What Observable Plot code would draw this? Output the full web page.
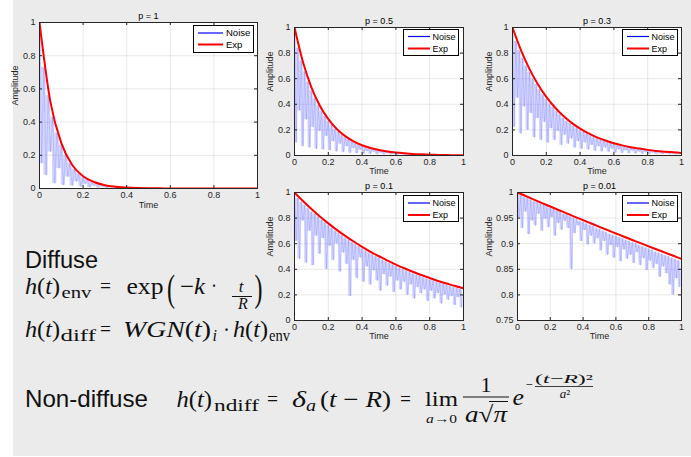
<!DOCTYPE html>
<html><head><meta charset="utf-8">
<script src="https://cdn.jsdelivr.net/npm/d3@7"></script>
<script src="https://cdn.jsdelivr.net/npm/@observablehq/plot@0.6"></script>
<style>
body{margin:0;background:#fff;width:691px;height:457px;overflow:hidden;position:relative;font-family:"Liberation Sans",Arial,sans-serif}
#bg{position:absolute;left:13px;top:0;width:678px;height:456px;background:#ebebeb}
.panel{position:absolute}
.legend{position:absolute}
</style></head><body>
<div id="bg"></div>
<script>
// ---- data ----
const titles = ["p = 1", "p = 0.5", "p = 0.3", "p = 0.1", "p = 0.01"];
const envTime = [0,0.05,0.1,0.15,0.2,0.25,0.3,0.35,0.4,0.45,0.5,0.55,0.6,0.65,0.7,0.75,0.8,0.85,0.9,0.95,1];
const envP1 = [1,0.522,0.273,0.142,0.074,0.039,0.020,0.011,0.0055,0.0029,0.0015,0.0008,0.0004,0.0002,0.0001,0.00006,0.00003,0.00002,0.00001,0.000005,0.000002];
const envP2 = [1,0.730,0.533,0.389,0.284,0.207,0.151,0.110,0.080,0.059,0.043,0.031,0.023,0.017,0.012,0.0089,0.0065,0.0047,0.0034,0.0025,0.0018];
const envP3 = [1,0.823,0.677,0.557,0.458,0.377,0.310,0.255,0.210,0.173,0.142,0.117,0.096,0.079,0.065,0.054,0.044,0.036,0.030,0.025,0.020];
const envP4 = [1,0.933,0.871,0.813,0.759,0.708,0.661,0.617,0.576,0.537,0.502,0.468,0.437,0.408,0.381,0.355,0.332,0.309,0.289,0.269,0.252];
const envP5 = [1,0.9931,0.9862,0.9794,0.9726,0.9659,0.9592,0.9525,0.9459,0.9394,0.9329,0.9264,0.9200,0.9136,0.9073,0.9010,0.8948,0.8886,0.8825,0.8764,0.8703];

// noise samples, one every 0.01 of Time
const noiseStep = 0.01;
const noiseP1 = [1.0,0.15,0.73,0.08,0.56,0.22,0.43,0.03,0.335,0.12,0.26,0.02,0.198,0.07,0.153,0.015,0.118,0.04,0.09,0.01,0.07,0.025,0.054,0.006,0.041,0.015,0.032,0.004,0.024,0.009,0.019,0.002,0.015,0.005,0.011,0.001,0.0088,0.003,0.0068,0.001,0.0052,0.002,0.004,0.0007,0.003,0.001,0.0023,0.0005,0.0018,0.0007,0.0014];
const noiseP2 = [1.0,0.10,0.84,0.35,0.74,0.07,0.655,0.28,0.575,0.06,
 0.505,0.22,0.445,0.05,0.39,0.19,0.345,0.045,0.305,0.15,
 0.27,0.04,0.237,0.11,0.208,0.03,0.183,0.09,0.162,0.025,
 0.143,0.07,0.126,0.02,0.111,0.055,0.098,0.015,0.086,0.042,
 0.076,0.012,0.067,0.032,0.059,0.01,0.052,0.025,0.046,0.008,
 0.04,0.02,0.035,0.006,0.031,0.015,0.027,0.005,0.024,0.011,
 0.021,0.004,0.019,0.009,0.016,0.003,0.014,0.007,0.013,0.002,
 0.011,0.005,0.01,0.002,0.009,0.004,0.008,0.002,0.007,0.003,
 0.0065,0.001,0.0058,0.003,0.005,0.001,0.0045,0.002,0.004,0.001,
 0.0035,0.0015,0.003,0.0008,0.0027,0.0012,0.0024,0.0006,0.0021,0.001,0.0018];
const noiseP3 = [1.0,0.22,0.89,0.45,0.82,0.17,0.76,0.38,0.70,0.20,
 0.65,0.33,0.60,0.14,0.555,0.29,0.515,0.12,0.475,0.26,
 0.44,0.10,0.405,0.21,0.375,0.12,0.345,0.19,0.32,0.08,
 0.295,0.16,0.27,0.09,0.25,0.13,0.23,0.06,0.215,0.11,
 0.198,0.05,0.183,0.10,0.17,0.045,0.157,0.08,0.145,0.035,
 0.134,0.07,0.124,0.03,0.115,0.06,0.106,0.025,0.098,0.05,
 0.09,0.022,0.083,0.045,0.077,0.018,0.071,0.038,0.065,0.016,
 0.06,0.033,0.055,0.014,0.051,0.028,0.047,0.012,0.044,0.024,
 0.041,0.01,0.038,0.02,0.035,0.009,0.032,0.018,0.03,0.008,
 0.028,0.015,0.026,0.007,0.024,0.013,0.022,0.006,0.02,0.011,0.019];
const noiseP4 = [1.0,0.62,0.955,0.48,0.925,0.78,0.90,0.45,0.875,0.70,
 0.85,0.43,0.83,0.66,0.81,0.52,0.785,0.64,0.765,0.40,
 0.745,0.58,0.72,0.47,0.70,0.60,0.685,0.38,0.665,0.53,
 0.645,0.44,0.63,0.19,0.61,0.47,0.595,0.33,0.578,0.49,
 0.56,0.30,0.545,0.42,0.53,0.28,0.515,0.39,0.50,0.31,
 0.488,0.23,0.473,0.36,0.46,0.27,0.447,0.34,0.435,0.22,
 0.422,0.31,0.41,0.24,0.398,0.30,0.388,0.20,0.377,0.28,
 0.366,0.17,0.356,0.26,0.346,0.21,0.336,0.24,0.327,0.15,
 0.318,0.23,0.31,0.17,0.30,0.21,0.292,0.13,0.284,0.20,
 0.276,0.16,0.268,0.19,0.26,0.12,0.253,0.18,0.246,0.10,0.24];
const noiseP5 = [1.0,0.95,0.995,0.93,0.99,0.962,0.989,0.918,0.986,0.945,
 0.982,0.935,0.981,0.958,0.978,0.925,0.976,0.948,0.973,0.932,
 0.969,0.951,0.968,0.915,0.964,0.94,0.963,0.927,0.958,0.944,
 0.957,0.93,0.953,0.85,0.95,0.92,0.948,0.935,0.944,0.905,
 0.942,0.926,0.939,0.898,0.936,0.915,0.934,0.90,0.93,0.91,
 0.928,0.886,0.925,0.905,0.923,0.878,0.919,0.897,0.917,0.872,
 0.915,0.893,0.912,0.865,0.91,0.888,0.907,0.87,0.905,0.878,
 0.902,0.862,0.9,0.883,0.897,0.858,0.895,0.871,0.892,0.848,
 0.89,0.866,0.887,0.852,0.884,0.86,0.882,0.835,0.88,0.855,
 0.877,0.842,0.875,0.82,0.872,0.80,0.87,0.832,0.867,0.815,0.865];

const xTicks = [0,0.2,0.4,0.6,0.8,1];
const yTicksA = [0,0.2,0.4,0.6,0.8,1];
const yTicksB = [0.75,0.8,0.85,0.9,0.95,1];
const legendLabels = ["Noise","Exp"];

// ---- layout ----
const panels = [
  {title:titles[0], env:envP1, noise:noiseP1, left:39, top:22, w:218, h:166, yDomain:[0,1], yTicks:yTicksA, ampDx:24, timeDy:19.5, leg:{x:193,y:25,w:61,h:28,fs:9.5,r1:8,r2:19.5,l0:5,l1:30,tx:33}},
  {title:titles[1], env:envP2, noise:noiseP2, left:294, top:27, w:169, h:128, yDomain:[0,1], yTicks:yTicksA, ampDx:24, timeDy:18.3, leg:{x:403,y:29,w:56,h:27,fs:9,r1:7.5,r2:19.5,l0:5,l1:27,tx:29.5}},
  {title:titles[2], env:envP3, noise:noiseP3, left:512, top:27, w:169, h:128, yDomain:[0,1], yTicks:yTicksA, ampDx:23, timeDy:18.3, leg:{x:622,y:29,w:56,h:27,fs:9,r1:7.5,r2:19.5,l0:5,l1:27,tx:29.5}},
  {title:titles[3], env:envP4, noise:noiseP4, left:294, top:192, w:169, h:128, yDomain:[0,1], yTicks:yTicksA, ampDx:24, timeDy:18.3, leg:{x:403,y:194.5,w:56,h:27,fs:9,r1:8,r2:20,l0:5,l1:27,tx:29.5}},
  {title:titles[4], env:envP5, noise:noiseP5, left:517, top:192, w:164, h:128, yDomain:[0.75,1], yTicks:yTicksB, ampDx:28, timeDy:18.3, leg:{x:622,y:195,w:56,h:27,fs:9,r1:8,r2:20,l0:5,l1:27,tx:29.5}}
];

const ml=34, mr=6, mt=18, mb=26;
for (const p of panels) {
  const envData = envTime.map((t,i)=>({t, v:p.env[i]}));
  const noiseData = p.noise.map((v,i)=>({t: +(i*noiseStep).toFixed(4), v}));
  // vertical span covered by each segment of the noise trace
  const spanData = noiseData.slice(0,-1).map((d,i)=>({t:d.t + noiseStep/2, lo:Math.min(d.v, noiseData[i+1].v), hi:Math.max(d.v, noiseData[i+1].v)}));
  const chart = Plot.plot({
    width: p.w+ml+mr, height: p.h+mt+mb,
    marginLeft: ml, marginRight: mr, marginTop: mt, marginBottom: mb,
    style: {background:"transparent", fontFamily:"'Liberation Sans', Arial, sans-serif", fontSize:"9px", color:"#262626", overflow:"visible"},
    x: {domain:[0,1]},
    y: {domain:p.yDomain},
    marks: [
      Plot.frame({fill:"white", stroke:null}),
      Plot.gridX(xTicks, {stroke:"#000", strokeOpacity:0.09}),
      Plot.gridY(p.yTicks, {stroke:"#000", strokeOpacity:0.09}),
      Plot.areaY(spanData, {x:"t", y1:"lo", y2:"hi", curve:"step", fill:"#7d86ff", fillOpacity:0.34, clip:true}),
      Plot.line(noiseData, {x:"t", y:"v", stroke:"#0000ff", strokeOpacity:0.2, strokeWidth:0.6, clip:true}),
      Plot.line(envData, {x:"t", y:"v", stroke:"#ff0000", strokeWidth:2, curve:"monotone-x", clip:true}),
      Plot.tickY(p.yTicks, {y:d=>d, insetRight:p.w-3, stroke:"#262626"}),
      Plot.tickY(p.yTicks, {y:d=>d, insetLeft:p.w-3, stroke:"#262626"}),
      Plot.tickX(xTicks, {x:d=>d, insetTop:p.h-3, stroke:"#262626"}),
      Plot.tickX(xTicks, {x:d=>d, insetBottom:p.h-3, stroke:"#262626"}),
      Plot.frame({stroke:"#262626"}),
      Plot.axisX(xTicks, {tickSize:0, tickPadding:3, tickFormat:d=>String(d), fill:"#262626", label:null}),
      Plot.axisY(p.yTicks, {tickSize:0, tickPadding:4, tickFormat:d=>String(d), fill:"#262626", label:null}),
      Plot.text([p.title], {frameAnchor:"top", dy:-9.5, text:d=>d, fill:"#000", fontSize:9}),
      Plot.text(["Time"], {frameAnchor:"bottom", dy:p.timeDy, text:d=>d, fill:"#262626", fontSize:9}),
      Plot.text(["Amplitude"], {frameAnchor:"left", dx:-p.ampDx, rotate:-90, text:d=>d, fill:"#262626", fontSize:9})
    ]
  });
  const div = document.createElement("div");
  div.className = "panel";
  div.style.left = (p.left-ml)+"px";
  div.style.top = (p.top-mt)+"px";
  div.appendChild(chart);
  document.body.appendChild(div);

  // legend box
  const L = p.leg;
  const lg = d3.select("body").append("svg").attr("class","legend")
    .attr("width", L.w).attr("height", L.h)
    .style("left", L.x+"px").style("top", L.y+"px");
  lg.append("rect").attr("x",0.5).attr("y",0.5).attr("width",L.w-1).attr("height",L.h-1).attr("fill","#fff").attr("stroke","#000");
  lg.append("line").attr("x1",L.l0).attr("x2",L.l1).attr("y1",L.r1).attr("y2",L.r1).attr("stroke","#0000ff").attr("stroke-width",1.2);
  lg.append("line").attr("x1",L.l0).attr("x2",L.l1).attr("y1",L.r2).attr("y2",L.r2).attr("stroke","#ff0000").attr("stroke-width",2);
  [L.r1, L.r2].forEach((r,i)=>lg.append("text").attr("x",L.tx).attr("y",r+3.3)
    .attr("font-size",L.fs).attr("font-family","'Liberation Sans', Arial, sans-serif").attr("fill","#000").text(legendLabels[i]));
}

// ---- formulas ----
const fx = d3.select("body").append("svg").attr("width",691).attr("height",457)
  .style("position","absolute").style("left","0px").style("top","0px");
const SERIF = "'Liberation Serif', 'Times New Roman', serif";
function T(x0, x1, y, size, parts, opts={}) {
  const t = fx.append("text").attr("x", x0).attr("y", y).attr("font-size", size)
    .attr("font-family", opts.family || SERIF).attr("fill", "#111");
  if (opts.anchor) t.attr("text-anchor", opts.anchor);
  if (x1 != null) t.attr("textLength", x1-x0).attr("lengthAdjust","spacingAndGlyphs");
  for (const [s, it] of parts) t.append("tspan").attr("font-style", it ? "italic":"normal").text(s);
}
function bar(x0, x1, y, w=1) {
  fx.append("line").attr("x1",x0).attr("x2",x1).attr("y1",y).attr("y2",y).attr("stroke","#111").attr("stroke-width",w);
}
const SANS = "'Liberation Sans', Arial, sans-serif";
T(25, 98, 268, 23, [["Diffuse",0]], {family:SANS});
T(25, 148, 407, 24, [["Non-diffuse",0]], {family:SANS});

// h(t)_env = exp(-k · t/R)
const ht = [["h",1],["(",0],["t",1],[")",0]];
T(25, 60, 294, 23, ht);
T(61.5, 91.5, 298, 17, [["env",0]]);
T(100, 111, 293, 22, [["=",0]]);
T(126.5, 163.5, 294, 23, [["exp",0]]);
T(167, 175, 301, 38, [["(",0]]);
T(180, 205, 294, 23, [["−",0],["k",1]]);
T(211, 217, 293, 23, [["·",0]]);
T(241, null, 292, 17, [["t",1]], {anchor:"middle"});
bar(232, 252, 296.5);
T(243, null, 309, 16, [["R",1]], {anchor:"middle"});
T(254.5, 262.5, 301, 38, [[")",0]]);

// h(t)_diff = WGN(t)_i · h(t)_env
T(25, 60, 337, 23, ht);
T(60.5, 96, 341, 17, [["diff",0]]);
T(100, 111, 336, 22, [["=",0]]);
T(123, 211, 337, 23, [["WGN",1],["(",0],["t",1],[")",0]]);
T(212.5, 217, 341, 16, [["i",1]]);
T(223, 230, 337, 23, [["·",0]]);
T(233, 268, 337, 23, ht);
T(269, 290, 341, 17, [["env",0]]);

// h(t)_ndiff = δ_a(t − R) = lim_{a→0} 1/(a√π) e^{−(t−R)²/a²}
T(176.5, 212, 407, 23, ht);
T(214, 259, 411, 17, [["ndiff",0]]);
T(267, 278, 406, 22, [["=",0]]);
T(292, 306, 407, 23, [["δ",1]]);
T(306, 316, 411, 16, [["a",1]]);
T(320, 391, 407, 23, [["(",0],["t",1],[" − ",0],["R",1],[")",0]]);
T(400, 411, 406, 22, [["=",0]]);
T(425, 458, 406, 22, [["lim",0]]);
T(426, 457, 423, 13, [["a",1],["→0",0]]);
T(486, null, 392, 22, [["1",0]], {anchor:"middle"});
bar(463, 509, 397);
T(465, 507, 421.5, 23, [["a",1],["√",0],["π",1]]);
bar(489, 508, 401.5, 1);
T(512.5, 524, 405, 23, [["e",1]]);
T(526, 533, 389, 14, [["−",0]]);
T(535, 593, 383, 13, [["(",0],["t",1],["−",0],["R",1],[")",0],["²",0]]);
bar(535, 593, 386.5, 0.8);
T(565, null, 398, 13, [["a",1],["²",0]], {anchor:"middle"});
</script>
</body></html>
